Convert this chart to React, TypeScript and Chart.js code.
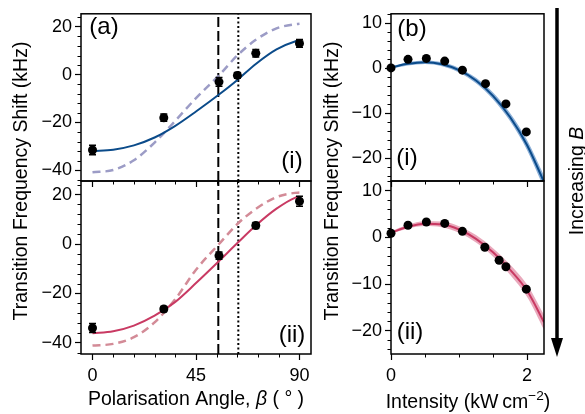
import React, { useEffect, useRef } from 'react';
import { Chart, registerables } from 'chart.js';

Chart.register(...registerables);

const FONT = '"Liberation Sans", Arial, Helvetica, sans-serif';
Chart.defaults.font.family = FONT;
Chart.defaults.color = '#000';

// ---------------- (a) Polarisation-angle panels ----------------
const ANGLE_RANGE = [-5, 95];
const ANGLE_SHIFT_RANGE = [-44.5, 25.5];
const ANGLE_TICKS = [0, 45, 90];
const ANGLE_MINOR = [9, 18, 27, 36, 54, 63, 72, 81];
const ANGLE_SHIFT_TICKS = [-40, -20, 0, 20];
const ANGLE_SHIFT_MINOR = [-44, -36, -32, -28, -24, -16, -12, -8, -4, 4, 8, 12, 16, 24];
const MAGIC_ANGLE = 54.7;
const DOTTED_ANGLE = 63.4;

// (a)(i) measurements
const ANGLE_I = [0, 31, 55, 63, 71, 90];
const SHIFT_I = [-31.5, -18.0, -3.0, -0.3, 9.0, 13.1];
const ERR_I = [2.0, 1.5, 1.8, 1.2, 1.6, 1.6];
// (a)(ii) measurements
const ANGLE_II = [0, 31, 55, 71, 90];
const SHIFT_II = [-34.0, -26.3, -4.7, 7.5, 17.3];
const ERR_II = [1.8, 1.0, 1.5, 1.2, 2.0];

// fitted (solid) and theory (dashed) curves
const FIT_ANGLE = [0, 9, 18, 27, 36, 45, 55, 63, 71, 80, 88, 90];
const FIT_A_I = [-32.0, -31.4, -29.6, -26.3, -21.4, -15.4, -8.3, -2.2, 4.5, 10.6, 13.9, 14.3];
const THEORY_A_I = [-40.8, -39.9, -35.8, -28.4, -19.3, -9.8, -0.3, 8.1, 14.6, 19.4, 21.1, 21.3];
const FIT_A_II = [-36.1, -35.3, -33.0, -29.0, -23.4, -15.8, -6.9, 0.4, 7.5, 14.3, 18.7, 19.1];
const THEORY_A_II = [-41.1, -40.4, -37.7, -31.7, -22.3, -10.4, 0.0, 8.1, 14.2, 19.0, 20.7, 20.8];

// ---------------- (b) Intensity panels ----------------
const INTENSITY_RANGE = [0, 2.25];
const INT_SHIFT_RANGE = [-25, 12.1];
const INTENSITY_TICKS = [0, 2];
const INTENSITY_MINOR = [0.5, 1, 1.5];
const INT_SHIFT_TICKS = [-20, -10, 0, 10];
const INT_SHIFT_MINOR = [-24, -22, -18, -16, -14, -12, -8, -6, -4, -2, 2, 4, 6, 8, 12];

const INTENSITY_I = [0, 0.25, 0.52, 0.79, 1.05, 1.39, 1.69, 1.99];
const INT_SHIFT_I = [0.1, 2.0, 2.2, 1.6, -0.4, -3.4, -7.9, -14.1];
const INTENSITY_II = [0, 0.25, 0.52, 0.79, 1.05, 1.38, 1.59, 1.69, 1.99];
const INT_SHIFT_II = [0.9, 2.6, 3.3, 3.0, 1.3, -2.1, -4.9, -6.3, -11.1];

const FIT_INTENSITY = [0, 0.25, 0.5, 0.75, 1.0, 1.25, 1.5, 1.75, 2.0, 2.25];
const FIT_B_I = [0.2, 1.0, 1.35, 0.9, -0.4, -2.7, -6.1, -10.8, -17.0, -25.2];
const BAND_B_I_HI = [0.45, 1.35, 1.75, 1.35, 0.1, -2.1, -5.35, -9.9, -15.9, -23.8];
const BAND_B_I_LO = [-0.05, 0.65, 0.95, 0.45, -0.9, -3.3, -6.85, -11.7, -18.1, -26.6];
const FIT_B_II = [1.0, 2.3, 2.95, 2.8, 1.7, -0.3, -3.2, -6.9, -11.4, -18.2];
const BAND_B_II_HI = [1.3, 2.7, 3.45, 3.4, 2.4, 0.5, -2.3, -5.8, -10.1, -16.6];
const BAND_B_II_LO = [0.7, 1.9, 2.45, 2.2, 1.0, -1.1, -4.1, -8.0, -12.7, -19.8];

// ---------------- styles ----------------
const BLUE = '#0b4b8a';
const LAVENDER = '#9c9cc6';
const PINK = '#c93a63';
const PINK_DASH = '#d38b97';
const BLUE_BAND = 'rgba(110,155,205,0.8)';
const PINK_BAND = 'rgba(226,140,165,0.75)';
const TICK_FONT = 18;
const TITLE_FONT = 19.5;
const LABEL_FONT = 24;

const LEFT_X = [81, 311];
const RIGHT_X = [391, 544];
const TOP_Y = [8, 181];
const BOTTOM_Y = [181, 354];

const pts = (xs: number[], ys: number[]) => xs.map((x, i) => ({ x, y: ys[i] }));
const fmt = (v: number) => (v < 0 ? '\u2212' + Math.abs(v) : String(v));

function drawParts(ctx: CanvasRenderingContext2D, parts: { t: string; italic?: boolean; sup?: boolean }[], size: number, cx: number, cy: number, rotate: boolean) {
  ctx.save();
  ctx.translate(cx, cy);
  if (rotate) ctx.rotate(-Math.PI / 2);
  const fontFor = (p: any) => `${p.italic ? 'italic ' : ''}${p.sup ? size * 0.7 : size}px ${FONT}`;
  let total = 0;
  parts.forEach((p) => { ctx.font = fontFor(p); total += ctx.measureText(p.t).width; });
  let x = -total / 2;
  ctx.textAlign = 'left';
  ctx.textBaseline = 'alphabetic';
  ctx.fillStyle = '#000';
  const base = size * 0.36;
  parts.forEach((p) => {
    ctx.font = fontFor(p);
    ctx.fillText(p.t, x, base - (p.sup ? size * 0.42 : 0));
    x += ctx.measureText(p.t).width;
  });
  ctx.restore();
}

const decoPlugin = {
  id: 'panelDeco',
  afterDatasetsDraw(chart: any, _a: any, opts: any) {
    const ctx = chart.ctx;
    const xs = chart.scales.x;
    const ys = chart.scales.y;
    ctx.save();
    ctx.strokeStyle = '#000';
    ctx.lineWidth = 1.5;
    (opts.errors || []).forEach((eb: any) => {
      eb.x.forEach((xv: number, i: number) => {
        const px = xs.getPixelForValue(xv);
        const top = ys.getPixelForValue(eb.y[i] + eb.e[i]);
        const bot = ys.getPixelForValue(eb.y[i] - eb.e[i]);
        ctx.beginPath();
        ctx.moveTo(px, top); ctx.lineTo(px, bot);
        ctx.moveTo(px - 3.5, top); ctx.lineTo(px + 3.5, top);
        ctx.moveTo(px - 3.5, bot); ctx.lineTo(px + 3.5, bot);
        ctx.stroke();
      });
    });
    ctx.restore();
  },
  afterDraw(chart: any, _a: any, opts: any) {
    const ctx = chart.ctx;
    const a = chart.chartArea;
    ctx.save();
    ctx.strokeStyle = '#000';
    ctx.lineWidth = 1;
    (opts.xMinor || []).forEach((v: number) => {
      const px = Math.round(chart.scales.x.getPixelForValue(v)) + 0.5;
      ctx.beginPath(); ctx.moveTo(px, a.bottom); ctx.lineTo(px, a.bottom + 3.5); ctx.stroke();
    });
    (opts.yMinor || []).forEach((v: number) => {
      const py = Math.round(chart.scales.y.getPixelForValue(v)) + 0.5;
      ctx.beginPath(); ctx.moveTo(a.left, py); ctx.lineTo(a.left - 3.5, py); ctx.stroke();
    });
    ctx.lineWidth = 1.5;
    ctx.strokeRect(a.left, a.top, a.right - a.left, a.bottom - a.top);
    ctx.fillStyle = '#000';
    ctx.font = `${LABEL_FONT}px ${FONT}`;
    ctx.textAlign = 'center';
    ctx.textBaseline = 'middle';
    (opts.labels || []).forEach((l: any) => ctx.fillText(l.text, l.x, l.y));
    ctx.restore();
  },
};

const overlayPlugin = {
  id: 'overlay',
  afterDraw(chart: any) {
    const ctx = chart.ctx;
    const yTitle = [{ t: 'Transition Frequency Shift (kHz)' }];
    drawParts(ctx, yTitle, TITLE_FONT, 20, 181, true);
    drawParts(ctx, yTitle, TITLE_FONT, 331, 181, true);
    drawParts(ctx, [{ t: 'Polarisation Angle, ' }, { t: 'β', italic: true }, { t: ' ( ° )' }], TITLE_FONT, 196, 398, false);
    drawParts(ctx, [{ t: 'Intensity (kW\u2009cm' }, { t: '\u22122', sup: true }, { t: ')' }], TITLE_FONT, 468, 401, false);
    drawParts(ctx, [{ t: 'Increasing ' }, { t: 'B', italic: true }], TITLE_FONT, 576, 181, true);
    // arrow
    ctx.save();
    ctx.strokeStyle = '#000';
    ctx.fillStyle = '#000';
    ctx.lineWidth = 3.5;
    ctx.beginPath(); ctx.moveTo(557, 8); ctx.lineTo(557, 340); ctx.stroke();
    ctx.beginPath(); ctx.moveTo(551, 338); ctx.lineTo(563, 338); ctx.lineTo(557, 357); ctx.closePath(); ctx.fill();
    ctx.restore();
  },
};

type Spec = {
  xr: number[]; yr: number[]; xt: number[]; yt: number[]; xm: number[]; ym: number[];
  ax: number[]; ay: number[]; showX: boolean; datasets: any[]; errors?: any[]; labels: any[]; overlay?: boolean;
};

function buildConfig(s: Spec): any {
  const W = 40;
  const H = s.showX ? 40 : 6;
  return {
    type: 'line',
    data: { datasets: s.datasets },
    options: {
      animation: false,
      responsive: false,
      devicePixelRatio: 1,
      layout: { padding: { left: s.ax[0] - W, right: 585 - s.ax[1], top: s.ay[0], bottom: 414 - s.ay[1] - H } },
      plugins: {
        legend: { display: false },
        tooltip: { enabled: false },
        panelDeco: { xMinor: s.xm, yMinor: s.ym, errors: s.errors, labels: s.labels },
      },
      scales: {
        x: {
          type: 'linear', position: 'bottom', min: s.xr[0], max: s.xr[1],
          afterBuildTicks: (ax: any) => { ax.ticks = s.xt.map((v) => ({ value: v })); },
          afterFit: (ax: any) => { ax.height = H; },
          ticks: { display: s.showX, autoSkip: false, maxRotation: 0, padding: 5, font: { size: TICK_FONT }, color: '#000', callback: (v: any) => fmt(Number(v)) },
          grid: { drawOnChartArea: false, drawTicks: true, tickLength: 6, tickColor: '#000', tickWidth: 1.2 },
          border: { display: false },
        },
        y: {
          type: 'linear', position: 'left', min: s.yr[0], max: s.yr[1],
          afterBuildTicks: (ax: any) => { ax.ticks = s.yt.map((v) => ({ value: v })); },
          afterFit: (ax: any) => { ax.width = W; },
          ticks: { autoSkip: false, padding: 3, font: { size: TICK_FONT }, color: '#000', callback: (v: any) => fmt(Number(v)) },
          grid: { drawOnChartArea: false, drawTicks: true, tickLength: 6, tickColor: '#000', tickWidth: 1.2 },
          border: { display: false },
        },
      },
    },
    plugins: s.overlay ? [decoPlugin, overlayPlugin] : [decoPlugin],
  };
}

const pointDs = (xs: number[], ys: number[]) => ({
  data: pts(xs, ys), showLine: false, pointRadius: 4.5, pointHoverRadius: 4.5,
  pointBackgroundColor: '#000', pointBorderWidth: 0, clip: false, order: 0,
});
const curveDs = (xs: number[], ys: number[], color: string, width: number, dash: number[], order: number) => ({
  data: pts(xs, ys), borderColor: color, borderWidth: width, borderDash: dash, pointRadius: 0,
  cubicInterpolationMode: 'monotone', fill: false, order,
});
const vlineDs = (x: number, dash: number[]) => ({
  data: pts([x, x], ANGLE_SHIFT_RANGE), borderColor: '#000', borderWidth: 2, borderDash: dash,
  pointRadius: 0, fill: false, order: 2,
});
const bandDs = (xs: number[], ys: number[], color: string, fill: any) => ({
  data: pts(xs, ys), borderWidth: 0, borderColor: 'rgba(0,0,0,0)', backgroundColor: color, pointRadius: 0,
  cubicInterpolationMode: 'monotone', fill, order: 3,
});

const SPECS: (() => Spec)[] = [
  () => ({
    xr: ANGLE_RANGE, yr: ANGLE_SHIFT_RANGE, xt: ANGLE_TICKS, yt: ANGLE_SHIFT_TICKS, xm: ANGLE_MINOR, ym: ANGLE_SHIFT_MINOR,
    ax: LEFT_X, ay: TOP_Y, showX: false, overlay: true,
    datasets: [
      pointDs(ANGLE_I, SHIFT_I),
      curveDs(FIT_ANGLE, FIT_A_I, BLUE, 2, [], 1),
      curveDs(FIT_ANGLE, THEORY_A_I, LAVENDER, 2.5, [8, 5], 1),
      vlineDs(MAGIC_ANGLE, [10, 4]),
      vlineDs(DOTTED_ANGLE, [2, 2.5]),
    ],
    errors: [{ x: ANGLE_I, y: SHIFT_I, e: ERR_I }],
    labels: [{ text: '(a)', x: 104, y: 27 }, { text: '(i)', x: 292, y: 161 }],
  }),
  () => ({
    xr: ANGLE_RANGE, yr: ANGLE_SHIFT_RANGE, xt: ANGLE_TICKS, yt: ANGLE_SHIFT_TICKS, xm: ANGLE_MINOR, ym: ANGLE_SHIFT_MINOR,
    ax: LEFT_X, ay: BOTTOM_Y, showX: true,
    datasets: [
      pointDs(ANGLE_II, SHIFT_II),
      curveDs(FIT_ANGLE, FIT_A_II, PINK, 2, [], 1),
      curveDs(FIT_ANGLE, THEORY_A_II, PINK_DASH, 2.5, [8, 5], 1),
      vlineDs(MAGIC_ANGLE, [10, 4]),
      vlineDs(DOTTED_ANGLE, [2, 2.5]),
    ],
    errors: [{ x: ANGLE_II, y: SHIFT_II, e: ERR_II }],
    labels: [{ text: '(ii)', x: 292, y: 335 }],
  }),
  () => ({
    xr: INTENSITY_RANGE, yr: INT_SHIFT_RANGE, xt: INTENSITY_TICKS, yt: INT_SHIFT_TICKS, xm: INTENSITY_MINOR, ym: INT_SHIFT_MINOR,
    ax: RIGHT_X, ay: TOP_Y, showX: false,
    datasets: [
      pointDs(INTENSITY_I, INT_SHIFT_I),
      curveDs(FIT_INTENSITY, FIT_B_I, BLUE, 2, [], 1),
      bandDs(FIT_INTENSITY, BAND_B_I_HI, BLUE_BAND, '+1'),
      bandDs(FIT_INTENSITY, BAND_B_I_LO, BLUE_BAND, false),
    ],
    labels: [{ text: '(b)', x: 412, y: 29 }, { text: '(i)', x: 407, y: 158 }],
  }),
  () => ({
    xr: INTENSITY_RANGE, yr: INT_SHIFT_RANGE, xt: INTENSITY_TICKS, yt: INT_SHIFT_TICKS, xm: INTENSITY_MINOR, ym: INT_SHIFT_MINOR,
    ax: RIGHT_X, ay: BOTTOM_Y, showX: true,
    datasets: [
      pointDs(INTENSITY_II, INT_SHIFT_II),
      curveDs(FIT_INTENSITY, FIT_B_II, PINK, 2, [], 1),
      bandDs(FIT_INTENSITY, BAND_B_II_HI, PINK_BAND, '+1'),
      bandDs(FIT_INTENSITY, BAND_B_II_LO, PINK_BAND, false),
    ],
    labels: [{ text: '(ii)', x: 410, y: 332 }],
  }),
];

function Panel({ index }: { index: number }) {
  const ref = useRef<HTMLCanvasElement>(null);
  useEffect(() => {
    const chart = new Chart(ref.current as HTMLCanvasElement, buildConfig(SPECS[index]()));
    return () => chart.destroy();
  }, [index]);
  return <canvas ref={ref} width={585} height={414} style={{ position: 'absolute', left: 0, top: 0 }} />;
}

export default function App() {
  return (
    <div style={{ position: 'absolute', left: 0, top: 0, width: 585, height: 414, background: '#fff', overflow: 'hidden' }}>
      {SPECS.map((_, i) => <Panel key={i} index={i} />)}
    </div>
  );
}
